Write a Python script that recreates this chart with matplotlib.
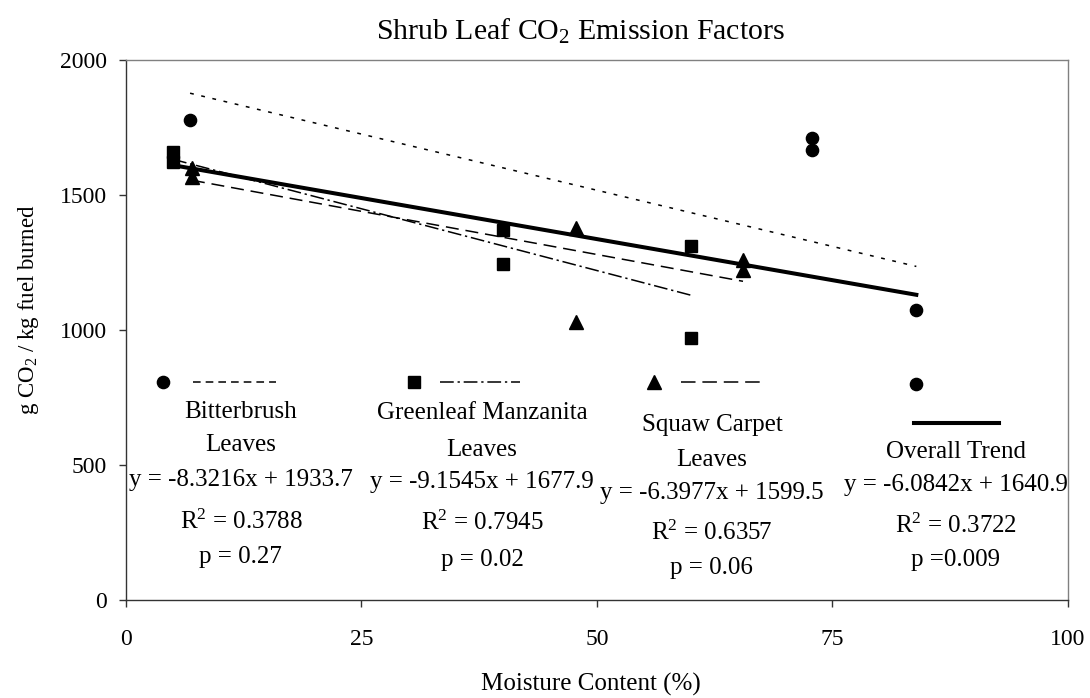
import numpy as np
import matplotlib
matplotlib.use("Agg")
import matplotlib.pyplot as plt
from matplotlib.lines import Line2D

plt.rcParams['font.family'] = ['Liberation Serif', 'DejaVu Serif']
plt.rcParams['mathtext.fontset'] = 'custom'
plt.rcParams['mathtext.rm'] = 'Liberation Serif'
plt.rcParams['mathtext.it'] = 'Liberation Serif:italic'
plt.rcParams['mathtext.bf'] = 'Liberation Serif:bold'

# measured points (moisture %, g CO2 / kg)
bitter_x = [6.8, 72.8, 72.8, 83.9, 83.9]
bitter_y = [1778, 1710, 1667, 1074, 800]
green_x = [5.0, 5.0, 40.0, 40.0, 60.0, 60.0]
green_y = [1660, 1623, 1370, 1244, 1311, 970]
squaw_x = [7.0, 7.0, 47.8, 47.8, 65.5, 65.5]
squaw_y = [1599, 1566, 1377, 1031, 1259, 1222]

# linear fits as printed on the chart
fit_names = ['Bitterbrush', 'Greenleaf', 'Squaw', 'Overall']
fit_slope = [-8.3216, -9.1545, -6.3977, -6.0842]
fit_icept = [1933.7, 1677.9, 1599.5, 1640.9]
fit_r2 = ['0.3788', '0.7945', '0.6357', '0.3722']
fit_p = ['p = 0.27', 'p = 0.02', 'p = 0.06', 'p =0.009']
fit_title = [['Bitterbrush', 'Leaves'], ['Greenleaf Manzanita', 'Leaves'],
             ['Squaw Carpet', 'Leaves'], ['Overall Trend']]

x_ticks = [0, 25, 50, 75, 100]
y_ticks = [0, 500, 1000, 1500, 2000]

styles = {
    'Bitterbrush': dict(ls=(0, (2.5, 5.0)), lw=1.1, color='black'),
    'Greenleaf': dict(ls=(0, (9, 2.5, 1.5, 2.5)), lw=1.1, color='black'),
    'Squaw': dict(ls=(0, (8.5, 4.5)), lw=1.1, color='black'),
    'Overall': dict(ls='-', lw=2.9, color='black'),
}
# legend samples are drawn a bit coarser, as in the original
key_styles = dict(styles)
key_styles['Bitterbrush'] = dict(ls=(0, (5.0, 3.3)), lw=1.1, color='black')
key_styles['Squaw'] = dict(ls=(0, (9.5, 4.5)), lw=1.1, color='black')
markers = {
    'Bitterbrush': dict(marker='o', markersize=8.8),
    'Greenleaf': dict(marker='s', markersize=8.2),
    'Squaw': dict(marker='^', markersize=10.5),
}


def fit_line(ax, name, xs, slope, icept):
    x = np.array([min(xs), max(xs)])
    ax.plot(x, slope * x + icept, **styles[name], zorder=2)


def legend_key(ax, handle, x, y, length):
    leg = ax.legend(handles=[handle], labels=[''], loc='center',
                    bbox_to_anchor=(x, y), bbox_transform=ax.transData,
                    frameon=False, handlelength=length, handletextpad=0,
                    borderpad=0, borderaxespad=0, fontsize=17)
    ax.add_artist(leg)


fig = plt.figure(figsize=(10.9, 6.98), dpi=100)
ax = fig.add_axes([0.1156, 0.1404, 0.9798 - 0.1156, 0.914 - 0.1404])

series = [('Bitterbrush', bitter_x, bitter_y),
          ('Greenleaf', green_x, green_y),
          ('Squaw', squaw_x, squaw_y)]
for name, xs, ys in series:
    ax.plot(xs, ys, ls='none', color='black', zorder=3, **markers[name])

all_x = bitter_x + green_x + squaw_x
for i, (name, xs, ys) in enumerate(series):
    fit_line(ax, name, xs, fit_slope[i], fit_icept[i])
fit_line(ax, 'Overall', all_x, fit_slope[3], fit_icept[3])

ax.set_xlim(0, 100)
ax.set_ylim(0, 2000)
ax.set_xticks(x_ticks)
ax.set_yticks(y_ticks)
ax.tick_params(direction='out', length=5, width=1, color='#333333',
               labelsize=17)
ax.tick_params(axis='x', pad=16)
ax.tick_params(axis='y', pad=9)
for s in ['left', 'bottom']:
    ax.spines[s].set_color('#333333')
    ax.spines[s].set_linewidth(1.0)
for s in ['top', 'right']:
    ax.spines[s].set_color('#808080')
    ax.spines[s].set_linewidth(1.0)

fig.text(581 / 1090, 1 - 40 / 698, 'Shrub Leaf CO$_2$ Emission Factors',
         fontsize=21.5, ha='center', va='baseline')
ax.set_xlabel('Moisture Content (%)', fontsize=18)
ax.xaxis.set_label_coords(0.494, -0.135)
ax.set_ylabel('g CO$_2$ / kg fuel burned', fontsize=16.5)
ax.yaxis.set_label_coords(-0.090, 0.537)

# legend keys row
key_y = 800
legend_key(ax, Line2D([], [], ls='none', color='black', **markers['Bitterbrush']), 3.9, key_y, 0.6)
legend_key(ax, Line2D([], [], **key_styles['Bitterbrush']), 11.5, key_y, 3.5)
legend_key(ax, Line2D([], [], ls='none', color='black', **markers['Greenleaf']), 30.6, key_y, 0.6)
legend_key(ax, Line2D([], [], **key_styles['Greenleaf']), 37.6, key_y, 3.4)
legend_key(ax, Line2D([], [], ls='none', color='black', **markers['Squaw']), 56.0, key_y, 0.6)
legend_key(ax, Line2D([], [], **key_styles['Squaw']), 63.4, key_y, 3.6)
legend_key(ax, Line2D([], [], **key_styles['Overall']), 88.2, 648, 3.6)

# text blocks under the keys
block_x = [12.2, 37.8, 62.2, 88.1]
block_y = [[696, 574, 444, 289, 159],
           [693, 556, 437, 285, 148],
           [648, 519, 396, 248, 119],
           [548, 426, 274, 148]]
for i in range(4):
    lines = list(fit_title[i])
    lines.append('y = %.4fx + %.1f' % (fit_slope[i], fit_icept[i]))
    lines.append('R$^2$ = ' + fit_r2[i])
    lines.append(fit_p[i])
    for txt, yy in zip(lines, block_y[i]):
        ax.text(block_x[i], yy, txt, ha='center', va='center', fontsize=18)

fig.savefig('out.png', dpi=100)
